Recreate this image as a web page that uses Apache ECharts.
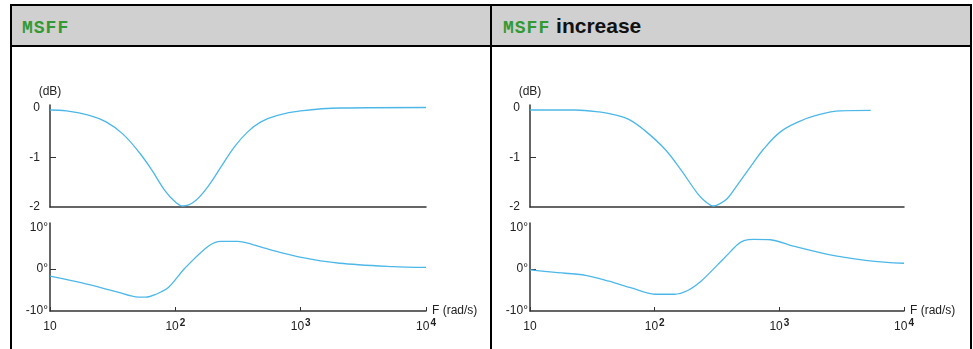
<!DOCTYPE html>
<html>
<head>
<meta charset="utf-8">
<script src="https://cdn.jsdelivr.net/npm/echarts@6/dist/echarts.min.js"></script>
<style>
body{margin:0;background:#fff;width:973px;height:349px;overflow:hidden;position:relative;font-family:'Liberation Sans',Arial,sans-serif}
.line{position:absolute;background:#000}
.head{position:absolute;top:6px;height:39px;width:478px;background:#d0d0d0;line-height:39px;font-size:21px;font-weight:bold;color:#111;box-sizing:border-box;padding-left:10px;white-space:nowrap}
.code{font-family:'Liberation Mono','Courier New',monospace;font-size:18px;letter-spacing:1px;color:#339933}
.chart{position:absolute;top:47px;width:478px;height:302px}
</style>
</head>
<body>
<div class="line" style="left:10px;top:4px;width:962px;height:2px"></div>
<div class="line" style="left:10px;top:45px;width:962px;height:2px"></div>
<div class="line" style="left:10px;top:4px;width:2px;height:345px"></div>
<div class="line" style="left:490px;top:4px;width:2px;height:345px"></div>
<div class="line" style="left:970px;top:4px;width:2px;height:345px"></div>
<div class="head" style="left:12px"><span class="code">MSFF</span></div>
<div class="head" style="left:492px;padding-left:11px"><span class="code">MSFF</span> increase</div>
<div id="chartL" class="chart" style="left:12px"></div>
<div id="chartR" class="chart" style="left:492px"></div>
<script>
// frequency (rad/s) and gain (dB) / phase (deg)
const magFreqL = [10, 13.5, 20.6, 28, 38, 51, 65, 82, 99, 115, 142, 182, 232, 296, 378, 482, 653, 1000, 2050, 10000]
const magL = [-0.05, -0.07, -0.16, -0.29, -0.53, -0.89, -1.26, -1.66, -1.89, -1.98, -1.89, -1.59, -1.19, -0.79, -0.49, -0.29, -0.16, -0.07, -0.01, 0]
const phFreqL = [10, 18, 33, 51, 58, 69, 88, 119, 182, 232, 315, 378, 578, 942, 2050, 5480, 10000]
const phL = [-1.7, -3.3, -5.3, -6.7, -6.7, -6.1, -4.4, 0.2, 5.4, 6.6, 6.6, 6.2, 4.6, 3.0, 1.4, 0.6, 0.4]

const magFreqR = [10, 23, 36, 48, 62, 83, 120, 163, 221, 258, 295, 335, 383, 460, 588, 751, 1020, 1420, 1970, 3100, 5400]
const magR = [-0.05, -0.05, -0.09, -0.15, -0.24, -0.46, -0.83, -1.26, -1.73, -1.90, -1.98, -1.93, -1.83, -1.56, -1.19, -0.83, -0.49, -0.29, -0.16, -0.07, -0.06]
const phFreqR = [10, 16, 28, 43, 65, 100, 144, 184, 235, 319, 383, 460, 520, 625, 850, 1330, 2560, 4920, 7300, 10000]
const phR = [-0.2, -0.8, -1.5, -2.9, -4.5, -6.0, -6.0, -5.1, -2.9, 1.0, 3.4, 5.8, 6.8, 7.1, 7.0, 5.4, 3.4, 2.1, 1.6, 1.4]

const magTicks = [-2, -1, 0]
const phTicks = [-10, 0, 10]

const LINE = '#4db8e8'
const AXIS = '#333'
const TXT = '#222'
const FONT = 'Liberation Sans, Arial, sans-serif'

function pairs(f, v){
	return f.map((x, i) => [x, v[i]])
}

function xLabel(v){
	if(v === 10) return '10'
	return '10{sup|' + Math.round(Math.log10(v)) + '}'
}

function bode(id, w, magF, mag, phF, ph){
	const axisLine = {onZero:false, lineStyle:{color:AXIS, width:1.5}}
	echarts.init(document.getElementById(id)).setOption({
		animation:false,
		textStyle:{fontFamily:FONT},
		grid:[
			{left:38, top:58, width:w, height:102},
			{left:38, top:176, width:w, height:88}
		],
		xAxis:[{
			gridIndex:0, type:'log', logBase:10, min:10, max:10000,
			axisLine:axisLine,
			axisTick:{show:false},
			axisLabel:{show:false},
			splitLine:{show:false}
		},{
			gridIndex:1, type:'log', logBase:10, min:10, max:10000,
			name:'F (rad/s)', nameLocation:'end', nameGap:6,
			nameTextStyle:{color:TXT, fontSize:12},
			axisLine:axisLine,
			axisTick:{inside:true, length:4, lineStyle:{color:AXIS}},
			axisLabel:{
				color:TXT, fontSize:12, margin:8, lineHeight:16,
				formatter:xLabel,
				rich:{sup:{fontSize:10, fontWeight:'bold', color:TXT, padding:[0, 0, 7, 1]}}
			},
			splitLine:{show:false}
		}],
		yAxis:[{
			gridIndex:0, type:'value', min:-2, max:0.05, interval:1,
			name:'(dB)', nameLocation:'end', nameGap:7,
			nameTextStyle:{color:TXT, fontSize:12, align:'center'},
			axisLine:{show:true, lineStyle:{color:AXIS, width:1.5}},
			axisTick:{show:true, inside:true, length:6, customValues:[-1], lineStyle:{color:AXIS}},
			axisLabel:{color:TXT, fontSize:12, margin:10, customValues:magTicks},
			splitLine:{show:false}
		},{
			gridIndex:1, type:'value', min:-10, max:11, interval:10,
			axisLine:{show:true, lineStyle:{color:AXIS, width:1.5}},
			axisTick:{show:true, inside:true, length:6, customValues:[0], lineStyle:{color:AXIS}},
			axisLabel:{color:TXT, fontSize:12, margin:2, customValues:phTicks, formatter:'{value}°'},
			splitLine:{show:false}
		}],
		series:[{
			type:'line', xAxisIndex:0, yAxisIndex:0,
			data:pairs(magF, mag),
			showSymbol:false, smooth:0.4,
			lineStyle:{color:LINE, width:1.3}
		},{
			type:'line', xAxisIndex:1, yAxisIndex:1,
			data:pairs(phF, ph),
			showSymbol:false, smooth:0.3,
			lineStyle:{color:LINE, width:1.3}
		}]
	})
}

bode('chartL', 376, magFreqL, magL, phFreqL, phL)
bode('chartR', 374, magFreqR, magR, phFreqR, phR)
</script>
</body>
</html>
